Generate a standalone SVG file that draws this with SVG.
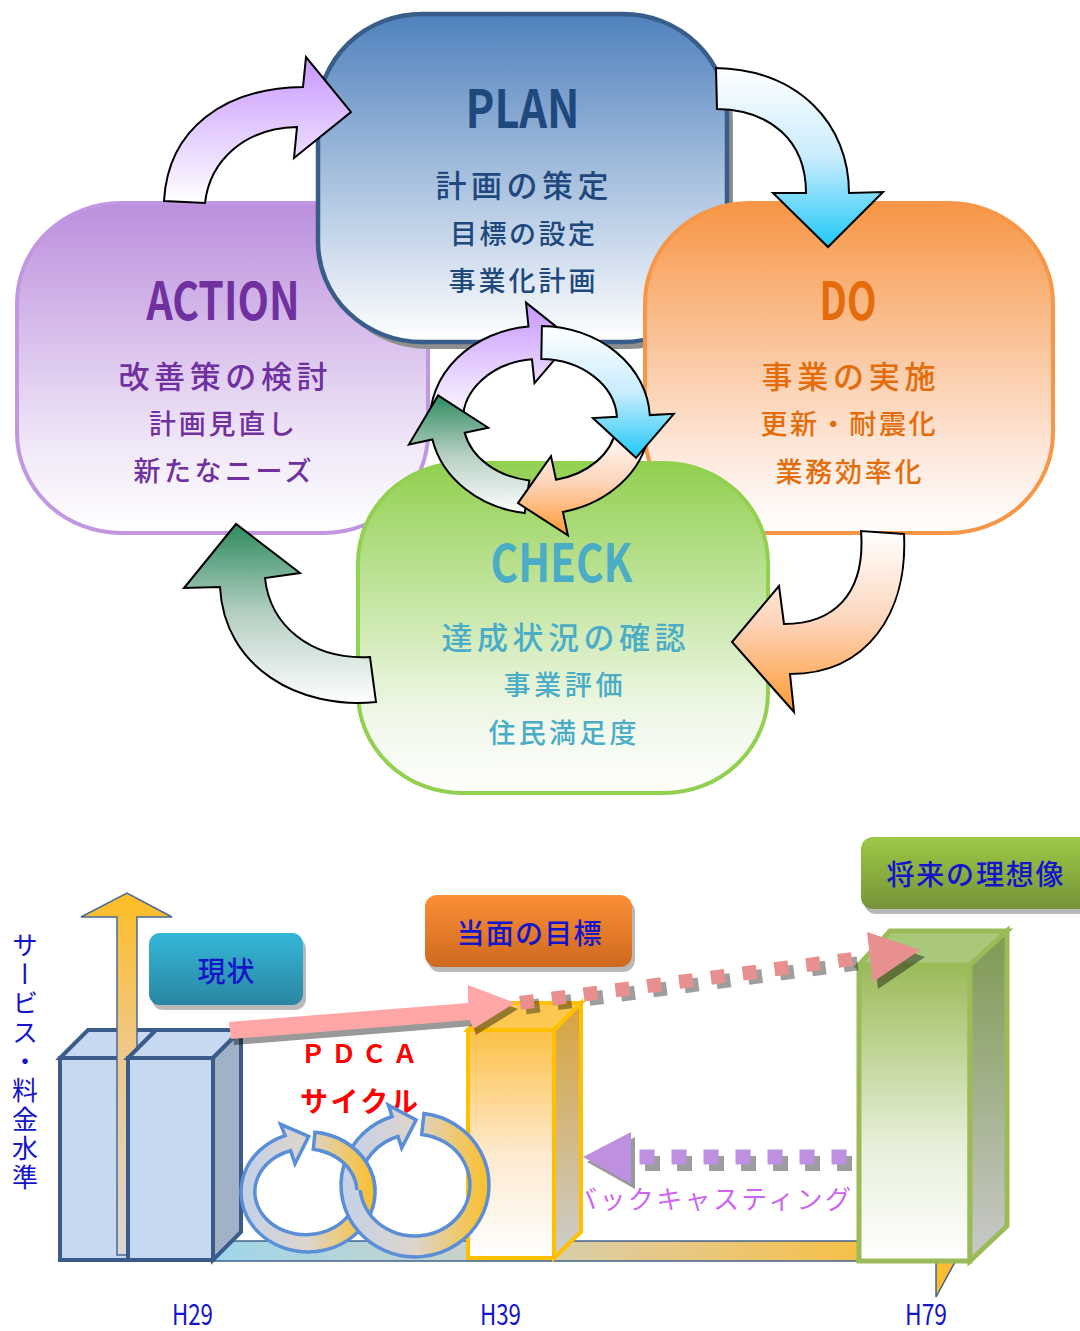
<svg xmlns="http://www.w3.org/2000/svg" xmlns:xlink="http://www.w3.org/1999/xlink" width="1080" height="1331" viewBox="0 0 1080 1331">
<style>
text{font-family:'Noto Sans CJK JP','Noto Sans',sans-serif;}
.title{font-size:52px;text-anchor:middle;font-weight:bold;}
.l1{font-size:31px;text-anchor:middle;dominant-baseline:central;font-weight:500;}
.l2{font-size:27px;text-anchor:middle;dominant-baseline:central;font-weight:500;}
.arr{stroke:#000;stroke-width:2;stroke-linejoin:miter;}
.lbl{font-size:28px;fill:#1414c8;text-anchor:middle;dominant-baseline:central;font-weight:500;}
.yr{font-size:29px;fill:#1414c8;text-anchor:middle;}
.box{stroke:#3b5c8a;stroke-width:4;stroke-linejoin:miter;}
.cyc{fill:url(#gCyc);stroke:#5a8ed6;stroke-width:3.5;}
</style>
<defs>
<linearGradient id="gPlan" x1="0" y1="0" x2="0" y2="1"><stop offset="0" stop-color="#4f81bd"/><stop offset="1" stop-color="#ffffff"/></linearGradient>
<linearGradient id="gAct" x1="0" y1="0" x2="0" y2="1"><stop offset="0" stop-color="#bc8fdd"/><stop offset="0.75" stop-color="#f1e9f8"/><stop offset="1" stop-color="#ffffff"/></linearGradient>
<linearGradient id="gDo" x1="0" y1="0" x2="0" y2="1"><stop offset="0" stop-color="#f79646"/><stop offset="0.75" stop-color="#fde7da"/><stop offset="1" stop-color="#ffffff"/></linearGradient>
<linearGradient id="gChk" x1="0" y1="0" x2="0" y2="1"><stop offset="0" stop-color="#92d050"/><stop offset="0.75" stop-color="#eef7e6"/><stop offset="1" stop-color="#ffffff"/></linearGradient>
<linearGradient id="aP" x1="0" y1="0" x2="0" y2="1"><stop offset="0" stop-color="#c797ff"/><stop offset="1" stop-color="#ffffff"/></linearGradient>
<linearGradient id="aB" x1="0" y1="0" x2="0" y2="1"><stop offset="0" stop-color="#ffffff"/><stop offset="0.5" stop-color="#c9ecfd"/><stop offset="1" stop-color="#1ec8f8"/></linearGradient>
<linearGradient id="aO" x1="0" y1="0" x2="0" y2="1"><stop offset="0" stop-color="#ffffff"/><stop offset="0.5" stop-color="#fdd5bb"/><stop offset="1" stop-color="#ff9933"/></linearGradient>
<linearGradient id="aG" x1="0" y1="0" x2="0" y2="1"><stop offset="0" stop-color="#2e8b5e"/><stop offset="0.5" stop-color="#b4cfc2"/><stop offset="1" stop-color="#ffffff"/></linearGradient>
<linearGradient id="gUp" x1="0" y1="0" x2="0" y2="1"><stop offset="0" stop-color="#fdbd24"/><stop offset="0.45" stop-color="#efc88c"/><stop offset="1" stop-color="#d9d7d4"/></linearGradient>
<linearGradient id="gFloor" gradientUnits="userSpaceOnUse" x1="213" y1="0" x2="940" y2="0"><stop offset="0" stop-color="#9fd6ea"/><stop offset="0.35" stop-color="#c9d3c9"/><stop offset="0.6" stop-color="#e6c98c"/><stop offset="1" stop-color="#fbbd2e"/></linearGradient>
<linearGradient id="gCyc" x1="0" y1="0" x2="1" y2="0"><stop offset="0" stop-color="#c3d1ea"/><stop offset="0.5" stop-color="#ddd5cb"/><stop offset="1" stop-color="#fbbf2a"/></linearGradient>
<linearGradient id="gTeal" x1="0" y1="0" x2="0" y2="1"><stop offset="0" stop-color="#34b7d7"/><stop offset="1" stop-color="#2a86a2"/></linearGradient>
<linearGradient id="gOrg" x1="0" y1="0" x2="0" y2="1"><stop offset="0" stop-color="#fb8f36"/><stop offset="1" stop-color="#cf691f"/></linearGradient>
<linearGradient id="gGrn" x1="0" y1="0" x2="0" y2="1"><stop offset="0" stop-color="#9dc946"/><stop offset="1" stop-color="#75933a"/></linearGradient>
<linearGradient id="gYF" x1="0" y1="0" x2="0" y2="1"><stop offset="0" stop-color="#fcc046"/><stop offset="0.55" stop-color="#feead0"/><stop offset="1" stop-color="#ffffff"/></linearGradient>
<linearGradient id="gYS" x1="0" y1="0" x2="0" y2="1"><stop offset="0" stop-color="#d8a43a"/><stop offset="1" stop-color="#cdcdcd"/></linearGradient>
<linearGradient id="gGF" x1="0" y1="0" x2="0" y2="1"><stop offset="0" stop-color="#9bbb59"/><stop offset="0.6" stop-color="#e6efd8"/><stop offset="1" stop-color="#ffffff"/></linearGradient>
<linearGradient id="gGS" x1="0" y1="0" x2="0" y2="1"><stop offset="0" stop-color="#7d9a52"/><stop offset="1" stop-color="#cacaca"/></linearGradient>
<clipPath id="clipTop"><rect x="320" y="1110" width="80" height="80"/></clipPath>
<g id="dotP"><rect x="-2" y="-2" width="14" height="14" fill="#000" opacity="0.38"/><rect x="-7" y="-7" width="14" height="14" fill="#e88f8f"/></g>
<g id="dotV"><rect x="-2" y="-1" width="15" height="15" fill="#000" opacity="0.38"/><rect x="-7.5" y="-7.5" width="15" height="15" fill="#bd91df"/></g>
</defs>
<rect width="1080" height="1331" fill="#ffffff"/>

<!-- PDCA nodes -->
<g id="action">
<rect x="17" y="203" width="411" height="330" rx="104" ry="100" fill="url(#gAct)" stroke="#c097e0" stroke-width="4"/>
<text class="title" x="223" y="320" fill="#7030a0" textLength="153" lengthAdjust="spacingAndGlyphs">ACTION</text>
<text class="l1" x="223" y="374" fill="#7030a0" textLength="209" lengthAdjust="spacing">改善策の検討</text>
<text class="l2" x="222" y="422" fill="#7030a0" textLength="146" lengthAdjust="spacing">計画見直し</text>
<text class="l2" x="222.5" y="469" fill="#7030a0" textLength="178" lengthAdjust="spacing">新たなニーズ</text>
</g>
<g id="plan">
<rect x="324" y="21" width="409" height="328" rx="104" ry="100" fill="#8f8f8f"/>
<rect x="318" y="14" width="409" height="328" rx="104" ry="100" fill="url(#gPlan)" stroke="#385d8a" stroke-width="4.5"/>
<text class="title" x="522.5" y="128" fill="#1f497d" textLength="114" lengthAdjust="spacingAndGlyphs">PLAN</text>
<text class="l1" x="522" y="183" fill="#1f497d" textLength="173" lengthAdjust="spacing">計画の策定</text>
<text class="l2" x="522.5" y="232" fill="#1f497d" textLength="145" lengthAdjust="spacing">目標の設定</text>
<text class="l2" x="522" y="279" fill="#1f497d" textLength="147" lengthAdjust="spacing">事業化計画</text>
</g>
<g id="do">
<rect x="645" y="203" width="408" height="330" rx="104" ry="100" fill="url(#gDo)" stroke="#f79646" stroke-width="4"/>
<text class="title" x="848" y="320" fill="#e46c0a" textLength="57" lengthAdjust="spacingAndGlyphs">DO</text>
<text class="l1" x="848.5" y="374" fill="#e46c0a" textLength="174" lengthAdjust="spacing">事業の実施</text>
<text class="l2" x="848" y="422" fill="#e46c0a" textLength="175" lengthAdjust="spacing">更新・耐震化</text>
<text class="l2" x="848.5" y="470" fill="#e46c0a" textLength="146" lengthAdjust="spacing">業務効率化</text>
</g>
<g id="check">
<rect x="358" y="463" width="410" height="330" rx="104" ry="100" fill="url(#gChk)" stroke="#92d050" stroke-width="4"/>
<text class="title" x="561.5" y="582" fill="#4bacc6" textLength="142" lengthAdjust="spacingAndGlyphs">CHECK</text>
<text class="l1" x="563.5" y="635" fill="#4bacc6" textLength="244" lengthAdjust="spacing">達成状況の確認</text>
<text class="l2" x="563" y="683" fill="#4bacc6" textLength="119" lengthAdjust="spacing">事業評価</text>
<text class="l2" x="562.5" y="731" fill="#4bacc6" textLength="148" lengthAdjust="spacing">住民満足度</text>
</g>

<!-- PDCA connectors -->
<g id="pdca-connectors">
<path class="arr" fill="url(#aP)" d="M164,201 C168,128 225,88 303,87 L306,57 L351,112 L294,158 L297,127 C245,128 210,160 205,203 Z"/>
<path class="arr" fill="url(#aB)" d="M716,68 C800,70 849,125 849,193 L883,192 L828,247 L773,193 L806,193 C806,140 770,110 717,109 Z"/>
<path class="arr" fill="url(#aO)" d="M904,534 C908,612 868,674 790,674 L794,712 L732,642 L779,586 L784,624 C832,624 866,596 861,531 Z"/>
<path class="arr" fill="url(#aG)" d="M376,702 C300,710 224,668 220,587 L184,588 L236,524 L300,573 L265,578 C270,625 310,660 370,657 Z"/>
<g id="center-cycle">
<path class="arr" fill="url(#aP)" d="M430.1,423.3 A110,94 0 0 1 528.5,326.5 L526,302.6 L572,339.2 L534.5,383.2 L532,359.3 A77,61 0 0 0 463,422.1 Z"/>
<path class="arr" fill="url(#aG)" d="M524.7,513.1 A110,94 0 0 1 432.4,439.5 L408.9,444.5 L438.1,395.4 L488.2,427.7 L464.7,432.7 A77,61 0 0 0 529.3,480.4 Z"/>
<path class="arr" fill="url(#aO)" d="M648.9,433.1 A110,94 0 0 1 562.9,511.9 L567.9,535.4 L518,503.1 L551,456.2 L556,479.7 A77,61 0 0 0 616.3,428.5 Z"/>
<path class="arr" fill="url(#aB)" d="M541.9,326 A110,94 0 0 1 649.8,415.1 L673.8,413.8 L636,457.8 L592.9,418.1 L616.9,416.8 A77,61 0 0 0 541.3,359 Z"/>
</g>
</g>

<!-- Bottom chart -->
<g id="floor">
<rect x="213" y="1241" width="727" height="20" fill="url(#gFloor)" stroke="#41628e" stroke-width="1.5"/>
<polygon points="936,1262 955,1262 936,1297" fill="#fbbd2e" stroke="#41628e" stroke-width="1.5"/>
</g>
<g id="bar-h29-a">
<rect class="box" x="60" y="1058" width="68" height="202" fill="#c6d9f1"/>
<polygon class="box" points="60,1058 88,1030 156,1030 128,1058" fill="#c6d9f1"/>
</g>
<g id="axis-arrow">
<polygon points="117,1255 117,917 81,917 127,893 172,917 137,917 137,1255" fill="url(#gUp)" stroke="#4a6a96" stroke-width="1.5"/>
</g>
<g id="bar-h29-b">
<rect class="box" x="128" y="1058" width="85" height="202" fill="#c6d9f1"/>
<polygon class="box" points="128,1058 156,1030 241,1030 213,1058" fill="#c6d9f1"/>
<polygon class="box" points="213,1058 241,1030 241,1232 213,1260" fill="#a1b1c6"/>
</g>
<g id="label-genjo">
<rect x="152" y="938" width="154" height="72" rx="11" fill="#8a8a8a" opacity="0.6"/>
<rect x="149" y="933" width="154" height="72" rx="11" fill="url(#gTeal)"/>
<text class="lbl" x="226" y="970" textLength="57" lengthAdjust="spacing">現状</text>
</g>
<g id="label-tomen">
<rect x="428" y="900" width="207" height="72" rx="12" fill="#8a8a8a" opacity="0.6"/>
<rect x="425" y="895" width="207" height="72" rx="12" fill="url(#gOrg)"/>
<text class="lbl" x="529" y="932" textLength="145" lengthAdjust="spacing">当面の目標</text>
</g>
<g id="label-shorai">
<rect x="864" y="842" width="240" height="72" rx="12" fill="#8a8a8a" opacity="0.6"/>
<rect x="861" y="837" width="240" height="72" rx="12" fill="url(#gGrn)"/>
<text class="lbl" x="975" y="873" font-size="29" textLength="177" lengthAdjust="spacing">将来の理想像</text>
</g>
<text x="571" y="1197" font-size="26" fill="#cc66ee" dominant-baseline="central" textLength="280" lengthAdjust="spacing">バックキャスティング</text>
<g id="bar-h39">
<rect x="468" y="1030" width="86" height="228" fill="url(#gYF)" stroke="#ffc000" stroke-width="4"/>
<polygon points="468,1030 495,1003 581,1003 554,1030" fill="#fcc84f" stroke="#ffc000" stroke-width="4" stroke-linejoin="miter"/>
<polygon points="554,1030 581,1003 581,1232 554,1258" fill="url(#gYS)" stroke="#ffc000" stroke-width="4" stroke-linejoin="miter"/>
</g>
<g id="bar-h79">
<rect x="859" y="965" width="111" height="296" fill="url(#gGF)" stroke="#9bbb59" stroke-width="5"/>
<polygon points="859,965 890,931 1007,931 970,965" fill="#aac87a" stroke="#9bbb59" stroke-width="5" stroke-linejoin="miter"/>
<polygon points="970,965 1007,931 1007,1226 970,1261" fill="url(#gGS)" stroke="#9bbb59" stroke-width="5" stroke-linejoin="miter"/>
</g>
<text x="359" y="1052" font-size="25" font-weight="bold" fill="#ff0000" text-anchor="middle" dominant-baseline="central" textLength="117" lengthAdjust="spacing">ＰＤＣＡ</text>
<text x="359" y="1100" font-size="28" font-weight="bold" fill="#ff0000" text-anchor="middle" dominant-baseline="central" textLength="118" lengthAdjust="spacing">サイクル</text>
<g id="pdca-cycles">
<path id="cyc1" class="cyc" d="M315,1132.3 A67,60 0 1 1 285.1,1135.6 L280.6,1124.3 L308.7,1136.4 L295,1163.8 L290.6,1150.7 A51,43 0 1 0 313.3,1149.2 Z"/>
<path class="cyc" d="M424,1113.5 A74,72 0 1 1 392.1,1116.5 L388.4,1105.1 L416.1,1120 L401.7,1147.9 L398,1136.5 A55,51 0 1 0 421.7,1134.4 Z"/>
<g clip-path="url(#clipTop)"><use href="#cyc1"/></g>
</g>
<g id="chart-connectors">
<polygon points="232,1028 471,1009 471,991 518,1009 476,1035 473,1026 234,1045" fill="#000" opacity="0.4"/>
<polygon points="229,1022 468,1003 468,985 515,1003 473,1029 470,1020 231,1039" fill="#ffa6a6"/>
<use href="#dotP" transform="translate(527,1002) rotate(-7.5)"/>
<use href="#dotP" transform="translate(558.8,997.8) rotate(-7.5)"/>
<use href="#dotP" transform="translate(590.6,993.6) rotate(-7.5)"/>
<use href="#dotP" transform="translate(622.4,989.4) rotate(-7.5)"/>
<use href="#dotP" transform="translate(654.2,985.2) rotate(-7.5)"/>
<use href="#dotP" transform="translate(686,981) rotate(-7.5)"/>
<use href="#dotP" transform="translate(717.8,976.8) rotate(-7.5)"/>
<use href="#dotP" transform="translate(749.6,972.6) rotate(-7.5)"/>
<use href="#dotP" transform="translate(781.4,968.4) rotate(-7.5)"/>
<use href="#dotP" transform="translate(813.2,964.2) rotate(-7.5)"/>
<use href="#dotP" transform="translate(845,960) rotate(-7.5)"/>
<polygon points="872,939 925,957 878,989" fill="#000" opacity="0.4"/>
<polygon points="867,932 920,950 873,982" fill="#e88f8f"/>
<use href="#dotV" x="647" y="1157"/>
<use href="#dotV" x="679" y="1157"/>
<use href="#dotV" x="711" y="1157"/>
<use href="#dotV" x="743" y="1157"/>
<use href="#dotV" x="775" y="1157"/>
<use href="#dotV" x="807" y="1157"/>
<use href="#dotV" x="839" y="1157"/>
<polygon points="587,1162 635,1137 635,1189" fill="#000" opacity="0.4"/>
<polygon points="583,1157 631,1132 631,1184" fill="#bd91df"/>
</g>
<text x="25" y="932" font-size="26" fill="#1414c8" letter-spacing="3" style="writing-mode:vertical-rl">サービス・料金水準</text>
<text class="yr" x="192.5" y="1325" textLength="41" lengthAdjust="spacingAndGlyphs">H29</text>
<text class="yr" x="500.5" y="1325" textLength="41" lengthAdjust="spacingAndGlyphs">H39</text>
<text class="yr" x="926" y="1325" textLength="42" lengthAdjust="spacingAndGlyphs">H79</text>
</svg>
